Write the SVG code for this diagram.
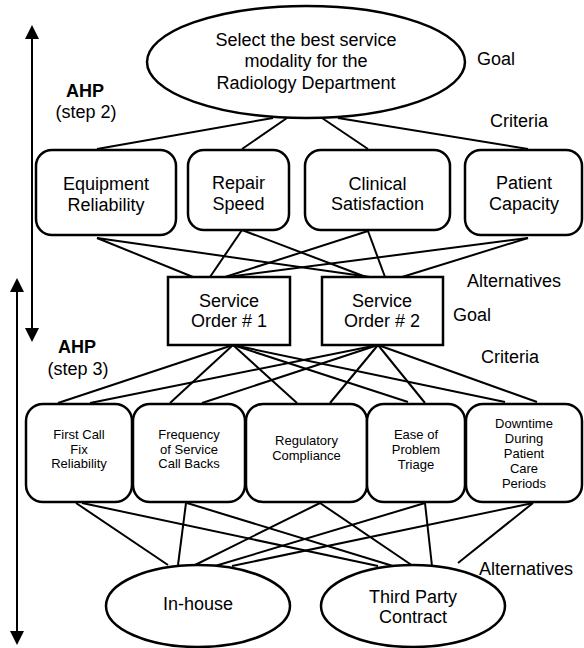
<svg xmlns="http://www.w3.org/2000/svg" width="584" height="648" viewBox="0 0 584 648">
<style>
.bg{fill:#ffffff}
.shape{fill:#ffffff;stroke:#000000;stroke-width:2.5}
.conn line{stroke:#000000;stroke-width:2;fill:none}
.axis{stroke:#000000;stroke-width:2}
text{font-family:"Liberation Sans",Arial,sans-serif;fill:#000000}
.t{font-size:18px;text-anchor:middle}
.s{font-size:13px;text-anchor:middle}
.lbl{font-size:18px}
.b{font-weight:bold}
</style>
<defs>
<marker id="arr" viewBox="0 0 14 14" refX="4" refY="7" markerWidth="14" markerHeight="14" markerUnits="userSpaceOnUse" orient="auto-start-reverse">
<path d="M0,0 L14,7 L0,14 z" fill="#000000"/>
</marker>
</defs>
<rect class="bg" x="0" y="0" width="584" height="648"/>

<g id="connectors" class="conn">
<line x1="273" y1="118" x2="97" y2="149"/>
<line x1="287" y1="118" x2="242" y2="149"/>
<line x1="322" y1="118" x2="368" y2="149"/>
<line x1="338" y1="118" x2="528" y2="149"/>

<line x1="97" y1="238" x2="193" y2="277"/>
<line x1="97" y1="238" x2="370" y2="277"/>
<line x1="242" y1="230" x2="210" y2="277"/>
<line x1="242" y1="230" x2="366" y2="277"/>
<line x1="368" y1="231" x2="385" y2="277"/>
<line x1="368" y1="231" x2="225" y2="277"/>
<line x1="528" y1="238" x2="402" y2="277"/>
<line x1="528" y1="238" x2="227" y2="277"/>

<line x1="233" y1="345" x2="58" y2="403"/>
<line x1="233" y1="345" x2="170" y2="403"/>
<line x1="233" y1="345" x2="297" y2="403"/>
<line x1="233" y1="345" x2="408" y2="402"/>
<line x1="233" y1="345" x2="505" y2="402"/>
<line x1="378" y1="345" x2="90" y2="403"/>
<line x1="378" y1="345" x2="202" y2="403"/>
<line x1="378" y1="345" x2="330" y2="403"/>
<line x1="378" y1="345" x2="425" y2="403"/>
<line x1="378" y1="345" x2="537" y2="402"/>

<line x1="76" y1="503" x2="168" y2="565"/>
<line x1="82" y1="503" x2="378" y2="566"/>
<line x1="186" y1="503" x2="178" y2="565"/>
<line x1="187" y1="503" x2="393" y2="566"/>
<line x1="320" y1="503" x2="195" y2="565"/>
<line x1="320" y1="503" x2="413" y2="566"/>
<line x1="425" y1="503" x2="215" y2="566"/>
<line x1="425" y1="503" x2="432" y2="566"/>
<line x1="533" y1="503" x2="232" y2="566"/>
<line x1="533" y1="503" x2="458" y2="563"/>
</g>

<g id="axis-step2">
<line class="axis" x1="32" y1="35" x2="32" y2="332" marker-start="url(#arr)" marker-end="url(#arr)"/>
<text class="lbl b" x="85" y="97" text-anchor="middle">AHP</text>
<text class="lbl" x="86" y="118" text-anchor="middle">(step 2)</text>
</g>
<g id="axis-step3">
<line class="axis" x1="17" y1="288" x2="17" y2="635" marker-start="url(#arr)" marker-end="url(#arr)"/>
<text class="lbl b" x="77" y="353" text-anchor="middle">AHP</text>
<text class="lbl" x="78" y="375" text-anchor="middle">(step 3)</text>
</g>

<g id="goal">
<ellipse class="shape" cx="306" cy="62" rx="159" ry="56"/>
<text class="t" x="306" y="46">Select the best service</text>
<text class="t" x="306" y="67">modality for the</text>
<text class="t" x="306" y="89">Radiology Department</text>
</g>
<text class="lbl" x="477" y="65">Goal</text>
<text class="lbl" x="490" y="127">Criteria</text>

<g id="c-equipment">
<rect class="shape" x="36" y="150" width="140" height="85" rx="16"/>
<text class="t" x="106" y="190">Equipment</text>
<text class="t" x="106" y="211">Reliability</text>
</g>
<g id="c-repair">
<rect class="shape" x="188" y="150" width="101" height="80" rx="16"/>
<text class="t" x="238.5" y="189">Repair</text>
<text class="t" x="238.5" y="210">Speed</text>
</g>
<g id="c-clinical">
<rect class="shape" x="305" y="150" width="145" height="80" rx="16"/>
<text class="t" x="377.5" y="190">Clinical</text>
<text class="t" x="377.5" y="210">Satisfaction</text>
</g>
<g id="c-patient">
<rect class="shape" x="465" y="150" width="117" height="85" rx="16"/>
<text class="t" x="524" y="189">Patient</text>
<text class="t" x="524" y="210">Capacity</text>
</g>

<text class="lbl" x="467" y="287">Alternatives</text>
<text class="lbl" x="453" y="321">Goal</text>

<g id="so1">
<rect class="shape" x="168" y="277" width="122" height="68"/>
<text class="t" x="229" y="307">Service</text>
<text class="t" x="229" y="327">Order # 1</text>
</g>
<g id="so2">
<rect class="shape" x="322" y="277" width="121" height="68"/>
<text class="t" x="382" y="307">Service</text>
<text class="t" x="382" y="327">Order # 2</text>
</g>

<text class="lbl" x="481" y="363">Criteria</text>

<g id="k-firstcall">
<rect class="shape" x="26" y="404" width="106" height="98" rx="17"/>
<text class="s" x="79" y="439">First Call</text>
<text class="s" x="79" y="453.5">Fix</text>
<text class="s" x="79" y="468">Reliability</text>
</g>
<g id="k-frequency">
<rect class="shape" x="133" y="404" width="112" height="98" rx="17"/>
<text class="s" x="189" y="439">Frequency</text>
<text class="s" x="189" y="453.5">of Service</text>
<text class="s" x="189" y="468">Call Backs</text>
</g>
<g id="k-regulatory">
<rect class="shape" x="246" y="404" width="121" height="98" rx="17"/>
<text class="s" x="306.5" y="445">Regulatory</text>
<text class="s" x="306.5" y="460">Compliance</text>
</g>
<g id="k-ease">
<rect class="shape" x="367" y="404" width="98" height="98" rx="17"/>
<text class="s" x="416" y="439">Ease of</text>
<text class="s" x="416" y="454">Problem</text>
<text class="s" x="416" y="469">Triage</text>
</g>
<g id="k-downtime">
<rect class="shape" x="466" y="404" width="116" height="98" rx="17"/>
<text class="s" x="524" y="428">Downtime</text>
<text class="s" x="524" y="443">During</text>
<text class="s" x="524" y="458">Patient</text>
<text class="s" x="524" y="473">Care</text>
<text class="s" x="524" y="488">Periods</text>
</g>

<text class="lbl" x="479" y="575">Alternatives</text>

<g id="a-inhouse">
<ellipse class="shape" cx="198" cy="606" rx="92" ry="41"/>
<text class="t" x="198" y="610">In-house</text>
</g>
<g id="a-thirdparty">
<ellipse class="shape" cx="413" cy="606" rx="92" ry="41"/>
<text class="t" x="413" y="603">Third Party</text>
<text class="t" x="413" y="623">Contract</text>
</g>
</svg>
